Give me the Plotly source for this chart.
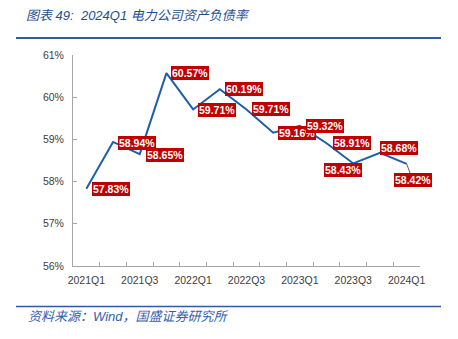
import plotly.graph_objects as go

# Quarterly debt-to-asset ratio of power companies (%)
quarters = ["2021Q1", "2021Q2", "2021Q3", "2021Q4",
            "2022Q1", "2022Q2", "2022Q3", "2022Q4",
            "2023Q1", "2023Q2", "2023Q3", "2023Q4", "2024Q1"]
ratio = [57.83, 58.94, 58.65, 60.57,
         59.71, 60.19, 59.71, 59.16,
         59.32, 58.91, 58.43, 58.68, 58.42]
y_ticks = [56, 57, 58, 59, 60, 61]

title_text = "图表 49:  2024Q1 电力公司资产负债率"
source_text = "资料来源：Wind，国盛证券研究所"

# label placement: (mode, dx, dy) in pixels relative to the point
label_place = [("r", 6, 0), ("r", 5, 1), ("r", 6, 1), ("r", 5, 0),
               ("r", 5, 1), ("r", 5, 0), ("r", 5, 0), ("r", 5, 0),
               ("r", 6, 0), ("r", 6, 0), ("c", -10, 7), ("r", 0, -5),
               ("arrow", 6, 16)]

W, H = 458, 339
L, R, T, B = 73, 38, 55, 73
plot_w = W - L - R
plot_h = H - T - B

RED = "#C00000"
LINE_BLUE = "#1F5CAD"
AXIS_GRAY = "#A6A6A6"
TICK_FONT = dict(family="Liberation Sans, Arial, sans-serif", size=10.5, color="#404040")


def px_to_paper_x(px):
    return (px - L) / plot_w


def px_to_paper_y(py):
    return (H - B - py) / plot_h


fig = go.Figure()
fig.add_trace(go.Scatter(
    x=quarters, y=ratio, mode="lines",
    line=dict(color=LINE_BLUE, width=2),
    hoverinfo="skip", showlegend=False,
))

annotations = []
for q, v, (mode, dx, dy) in zip(quarters, ratio, label_place):
    common = dict(
        x=q, y=v, xref="x", yref="y",
        text=f"<b>{v:.2f}%</b>",
        font=dict(family="Liberation Sans, Arial, sans-serif", size=10.5, color="white"),
        bgcolor=RED, bordercolor=RED, borderwidth=1, borderpad=0,
    )
    if mode == "arrow":
        annotations.append(dict(
            **common, showarrow=True, arrowhead=0, arrowwidth=1,
            arrowcolor="#595959", ax=dx, ay=dy, standoff=0,
        ))
    elif mode == "c":
        annotations.append(dict(
            **common, showarrow=False, xanchor="center", yanchor="middle",
            xshift=dx, yshift=-dy,
        ))
    else:
        annotations.append(dict(
            **common, showarrow=False, xanchor="left", yanchor="middle",
            xshift=dx, yshift=-dy,
        ))

# source note under the chart
annotations.append(dict(
    text=source_text, xref="paper", yref="paper",
    x=px_to_paper_x(26), y=px_to_paper_y(316),
    xanchor="left", yanchor="middle", showarrow=False,
    font=dict(family="Liberation Sans, Noto Sans CJK SC, sans-serif", size=13,
              color="#2F62B3", style="italic"),
))

shapes = [
    # header rule
    dict(type="line", xref="paper", yref="paper",
         x0=px_to_paper_x(16), x1=px_to_paper_x(441),
         y0=px_to_paper_y(38), y1=px_to_paper_y(38),
         line=dict(color="#2E5C9E", width=2.2)),
    # footer rule
    dict(type="line", xref="paper", yref="paper",
         x0=px_to_paper_x(16), x1=px_to_paper_x(441),
         y0=px_to_paper_y(306.5), y1=px_to_paper_y(306.5),
         line=dict(color="#2E5C9E", width=1.3)),
]

fig.update_layout(
    width=W, height=H,
    margin=dict(l=L, r=R, t=T, b=B),
    paper_bgcolor="white", plot_bgcolor="white",
    title=dict(
        text=title_text, xref="container", yref="container",
        x=26 / W, y=1 - 15 / H, xanchor="left", yanchor="middle",
        font=dict(family="Liberation Sans, Noto Sans CJK SC, sans-serif", size=13,
                  color="#1F4E8C", style="italic"),
    ),
    annotations=annotations,
    shapes=shapes,
    xaxis=dict(
        type="category", categoryorder="array", categoryarray=quarters,
        tickmode="array", tickvals=quarters,
        ticktext=[q if i % 2 == 0 else "" for i, q in enumerate(quarters)],
        tickson="boundaries", ticks="inside", ticklen=4, tickcolor=AXIS_GRAY,
        tickangle=0,
        showline=True, linecolor=AXIS_GRAY, linewidth=1,
        showgrid=False, zeroline=False,
        tickfont=TICK_FONT, ticklabelstandoff=4,
        range=[-0.5, len(quarters) - 0.5],
    ),
    yaxis=dict(
        range=[y_ticks[0], y_ticks[-1]],
        tickmode="array", tickvals=y_ticks,
        ticktext=[f"{t}%" for t in y_ticks],
        ticks="inside", ticklen=4, tickcolor=AXIS_GRAY,
        showline=True, linecolor=AXIS_GRAY, linewidth=1,
        showgrid=False, zeroline=False,
        tickfont=TICK_FONT, ticklabelstandoff=6,
    ),
)

fig.write_html("out.html")
